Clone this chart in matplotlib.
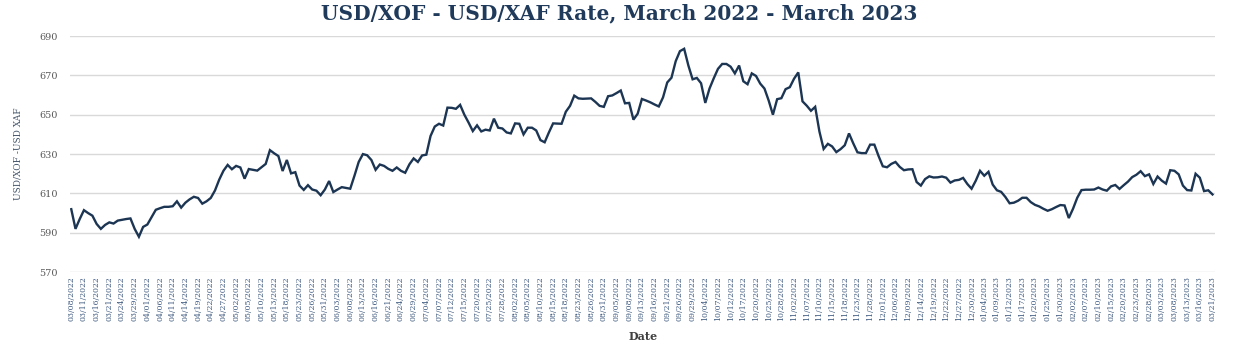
"""USD/XOF - USD/XAF daily rate line chart."""

import matplotlib
import pandas as pd

matplotlib.use("Agg")
import matplotlib.pyplot as plt  # noqa: E402


START_DATE = "2022-03-08"
END_DATE = "2023-03-21"
TICK_STEP = 3

# daily rate, one value per business day
rate_2022_q1q2 = [
    602, 592, 597, 601.5, 600, 598.7, 594.5, 592, 594, 595.3,
    594.7, 596.2, 596.6, 597, 597.3, 592, 588, 593, 594.2, 598,
    601.7, 602.5, 603.2, 603.2, 603.5, 606, 602.8, 605.3, 607, 608.3,
    607.7, 604.8, 606, 607.7, 611.5, 617, 621.5, 624.5, 622.3, 624,
    623.2, 617.5, 622.4, 622, 621.6, 623.3, 625, 632, 630.4, 629,
    621.4, 627, 620.2, 620.8, 614, 611.8, 614.2, 612, 611.4, 609.1,
    612, 616.3, 610.7, 612, 613.2, 612.8, 612.4,
]
rate_2022_q3 = [
    619, 626, 630, 629.4, 627, 622, 624.7, 624, 622.5, 621.5,
    623.2, 621.5, 620.5, 624.8, 627.8, 626, 629.3, 629.7, 639.2, 644,
    645.4, 644.5, 653.6, 653.5, 653, 655, 650, 646, 641.7, 644.6,
    641.5, 642.4, 642, 648, 643.4, 643, 641, 640.5, 645.6, 645.4,
    640, 643.4, 643.4, 642, 637.1, 636, 641, 645.6, 645.5, 645.4,
    651.5, 654.5, 659.7, 658.3, 658.1, 658.2, 658.3, 656.5, 654.5, 654,
    659.4, 659.8, 661, 662.3, 655.8, 656,
]
rate_2022_q4 = [
    647.5, 650.5, 658, 657.2, 656.3, 655.2, 654.2, 658.8, 666.4, 668.8,
    677.2, 682.3, 683.5, 675, 668, 668.7, 666, 656, 663.3, 668.5,
    673.3, 675.8, 675.8, 674.4, 671, 675, 667, 665.5, 671, 669.7,
    665.8, 663.3, 657.2, 650, 657.9, 658.4, 663, 664, 668.3, 671.5,
    656.8, 654.6, 652, 654, 641.5, 632.6, 635.2, 633.9, 631, 632.5,
    634.5, 640.5, 635.5, 630.9, 630.5, 630.5, 634.8, 634.8, 629, 623.8,
    623.3, 625, 626, 623.5, 621.8, 622.2, 622.3, 615.8, 614, 617.3,
]
rate_2023 = [
    618.7, 618.1, 618.2, 618.6, 618, 615.5, 616.6, 616.9, 617.9, 614.8,
    612.4, 616.5, 621.5, 619, 621, 614.5, 611.6, 610.8, 608.2, 605,
    605.3, 606.3, 607.8, 607.8, 605.6, 604.2, 603.4, 602.2, 601.2, 602,
    603.1, 604.1, 603.9, 597.5, 602.2, 607.8, 611.7, 611.9, 611.9, 612,
    613, 612, 611.4, 613.6, 614.3, 612.3, 614.2, 616, 618.3, 619.5,
    621.3, 618.8, 619.7, 614.8, 618.6, 616.5, 615, 621.8, 621.5, 619.7,
    614, 611.7, 611.5, 620, 618, 611.2, 611.6, 609.5,
]
Y_TICKS = [570, 590, 610, 630, 650, 670, 690]

NAVY = "#1c3553"
GRID = "#d9d9d9"


def main() -> None:
    rates = rate_2022_q1q2 + rate_2022_q3 + rate_2022_q4 + rate_2023
    dates = pd.bdate_range(START_DATE, END_DATE)[: len(rates)]
    frame = pd.DataFrame({"date": dates, "rate": rates})
    positions = list(range(len(frame)))

    fig = plt.figure(figsize=(12.39, 3.53), dpi=100)
    ax = fig.add_axes([0.0565, 0.229, 0.9245, 0.669])

    ax.plot(positions, frame["rate"], color=NAVY, linewidth=1.7, solid_joinstyle="miter")

    ax.set_ylim(570, 690)
    ax.set_yticks(Y_TICKS)
    ax.set_xlim(-0.3, len(frame) - 0.3)
    tick_pos = positions[::TICK_STEP]
    ax.set_xticks(tick_pos)
    ax.set_xticklabels(
        frame["date"].dt.strftime("%m/%d/%Y").iloc[::TICK_STEP],
        rotation=90, fontsize=5.6, color="#3e5a80", family="DejaVu Serif",
    )
    for label in ax.get_yticklabels():
        label.set_fontsize(7)
        label.set_color("#595959")
        label.set_family("DejaVu Serif")

    ax.grid(axis="y", color=GRID, linewidth=1.0)
    ax.set_axisbelow(True)
    for spine in ax.spines.values():
        spine.set_visible(False)
    ax.tick_params(axis="both", length=0)
    ax.tick_params(axis="y", pad=9)
    ax.tick_params(axis="x", pad=3)

    ax.set_ylabel("USD/XOF -USD XAF", fontsize=6.5, color="#44546a", family="DejaVu Serif", labelpad=12)
    ax.set_xlabel("Date", fontsize=8, color="#404040", family="DejaVu Serif", fontweight="bold", labelpad=7)
    fig.suptitle(
        "USD/XOF - USD/XAF Rate, March 2022 - March 2023",
        x=0.5, y=0.99, fontsize=14.5, color="#1f3a5a", family="DejaVu Serif", fontweight="bold",
    )

    fig.savefig("out.png", dpi=100)
    plt.close(fig)


if __name__ == "__main__":
    main()
